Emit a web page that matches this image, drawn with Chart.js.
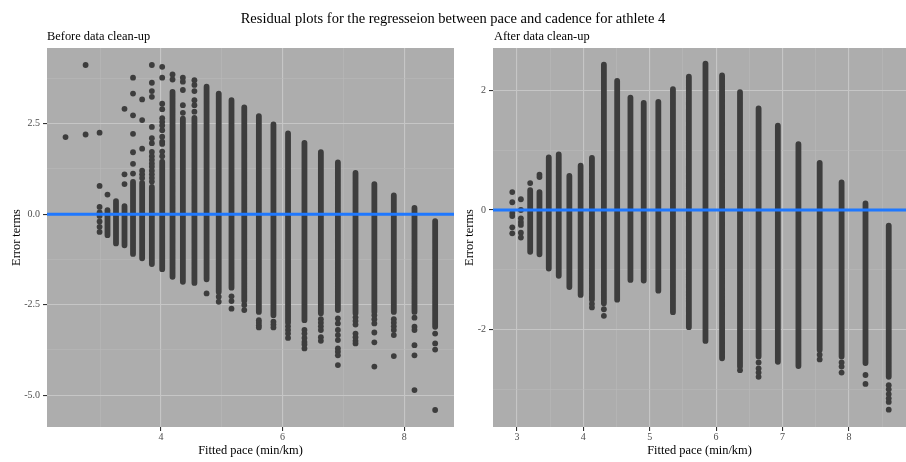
<!DOCTYPE html>
<html>
<head>
<meta charset="utf-8">
<script src="https://cdn.jsdelivr.net/npm/chart.js@4.4.1/dist/chart.umd.min.js"></script>
<style>
  body { margin: 0; background: #fff; font-family: 'Liberation Serif', 'Times New Roman', serif; }
  #wrap { position: relative; width: 906px; height: 462px; overflow: hidden; }
  canvas { position: absolute; top: 0; }
  .txt { position: absolute; line-height: 1; white-space: nowrap; color: #000; }
  #title { top: 11px; left: 0; width: 906px; text-align: center; font-size: 14.5px; }
  .sub { top: 29.5px; font-size: 12.4px; }
</style>
</head>
<body>
<div id="wrap">
  <canvas id="beforeChart" width="455" height="462" style="left:0"></canvas>
  <canvas id="afterChart" width="451" height="462" style="left:455px"></canvas>
  <div class="txt" id="title">Residual plots for the regresseion between pace and cadence for athlete 4</div>
  <div class="txt sub" style="left:47px">Before data clean-up</div>
  <div class="txt sub" style="left:494px">After data clean-up</div>
</div>
<script>
// ---- before clean-up: one entry per fitted pace value
const beforePace = [2.43, 2.76, 2.99, 3.12, 3.26, 3.40, 3.54, 3.69, 3.85, 4.02, 4.19, 4.36, 4.55, 4.75,
    4.95, 5.16, 5.37, 5.61, 5.85, 6.09, 6.36, 6.63, 6.91, 7.20, 7.51, 7.83, 8.17, 8.51];
// dense run of residuals (low / high), null if the column is only loose points
const beforeLow = [null, null, null, -0.58, -0.81, -0.86, -1.10, -1.22, -1.38, -1.52, -1.73, -1.87, -1.90, -1.80,
    -2.15, -2.03, -2.39, -2.70, -2.79, -3.00, -2.93, -2.74, -2.65, -2.74, -2.70, -2.70, -2.70, -3.11];
const beforeHigh = [null, null, null, 0.05, 0.30, 0.22, 0.89, 0.86, 0.75, 1.45, 3.38, 2.64, 2.66, 3.52,
    3.33, 3.15, 2.95, 2.71, 2.48, 2.23, 1.97, 1.71, 1.43, 1.14, 0.83, 0.52, 0.17, -0.19];
// loose residuals outside the dense run
const beforeLoose = [
    [2.13],
    [4.12, 2.20],
    [2.25, 0.78, 0.20, 0.05, -0.05, -0.20, -0.35, -0.49],
    [0.54, 0.11],
    [0.36],
    [2.91, 1.10, 0.83],
    [3.77, 3.33, 2.73, 2.22, 1.71, 1.39, 1.12],
    [3.17, 2.60, 1.81, 1.20, 1.10, 1.00],
    [4.12, 3.63, 3.40, 3.24, 2.41, 2.10, 1.96, 1.72, 1.60, 1.50, 1.40, 1.31, 1.20, 1.10, 1.00, 0.90],
    [4.07, 3.77, 3.05, 2.90, 2.65, 2.55, 2.45, 2.32, 2.14, 2.00, 1.94, 1.73, 1.60],
    [3.86, 3.72],
    [3.77, 3.66, 3.43, 3.01, 2.80],
    [3.70, 3.57, 3.40, 3.15, 3.01, 2.83],
    [-2.19],
    [-2.28, -2.42],
    [-2.27, -2.40, -2.61],
    [-2.51, -2.65],
    [-2.93, -3.00, -3.07, -3.13],
    [-2.97, -3.05, -3.13],
    [-3.10, -3.20, -3.30, -3.42],
    [-3.20, -3.30, -3.42, -3.53, -3.60, -3.71],
    [-2.90, -3.00, -3.10, -3.20, -3.40, -3.50],
    [-2.88, -3.02, -3.20, -3.34, -3.48, -3.71, -3.80, -3.90, -4.17],
    [-2.85, -2.95, -3.05, -3.30, -3.40, -3.50, -3.57],
    [-2.79, -2.90, -3.02, -3.27, -3.54, -4.21],
    [-2.90, -3.00, -3.10, -3.20, -3.34, -3.92],
    [-2.86, -3.11, -3.20, -3.62, -3.90, -4.86],
    [-3.30, -3.57, -3.74, -5.41]
];

// ---- after clean-up
const afterPace = [2.93, 3.06, 3.20, 3.34, 3.48, 3.63, 3.79, 3.96, 4.13, 4.31, 4.51, 4.71, 4.91,
    5.13, 5.35, 5.59, 5.84, 6.09, 6.36, 6.64, 6.93, 7.24, 7.56, 7.89, 8.25, 8.60];
const afterLow = [null, null, -0.70, -0.74, -0.98, -1.10, -1.29, -1.42, -1.50, -1.56, -1.50, -1.17, -1.18,
    -1.35, -1.71, -1.96, -2.19, -2.48, -2.62, -2.45, -2.54, -2.61, -2.34, -2.45, -2.56, -2.79];
const afterHigh = [null, null, 0.33, 0.30, 0.88, 0.93, 0.57, 0.74, 0.87, 2.43, 2.16, 1.88, 1.79,
    1.81, 2.02, 2.23, 2.45, 2.25, 1.97, 1.70, 1.41, 1.10, 0.79, 0.46, 0.11, -0.26];
const afterLoose = [
    [0.30, 0.13, -0.05, -0.10, -0.29, -0.39],
    [0.18, 0.00, -0.14, -0.20, -0.25, -0.38, -0.46],
    [0.45],
    [0.59, 0.55],
    [], [], [], [],
    [-1.57, -1.63],
    [-1.66, -1.77],
    [], [], [], [], [], [], [], [],
    [-2.68],
    [-2.55, -2.65, -2.72, -2.79],
    [], [],
    [-2.42, -2.50],
    [-2.55, -2.62, -2.72],
    [-2.76, -2.91],
    [-2.93, -3.00, -3.08, -3.15, -3.21, -3.34]
];

// axis limits and ticks
const beforeXRange = [2.125, 8.82];
const beforeYRange = [-5.88, 4.59];
const beforeXTicks = [4, 6, 8];
const beforeXMinor = [3, 5, 7];
const beforeYTicks = [-5, -2.5, 0, 2.5];
const beforeYMinor = [-3.75, -1.25, 1.25, 3.75];

const afterXRange = [2.64, 8.86];
const afterYRange = [-3.63, 2.71];
const afterXTicks = [3, 4, 5, 6, 7, 8];
const afterXMinor = [3.5, 4.5, 5.5, 6.5, 7.5, 8.5];
const afterYTicks = [-2, 0, 2];
const afterYMinor = [-3, -1, 1];

const zeroLine = 0;

const FONT = "'Liberation Serif', 'Times New Roman', serif";
const DOT = '#3d3d3d';

const panelBg = {
    id: 'panelBg',
    beforeDraw(chart) {
        const a = chart.chartArea, ctx = chart.ctx;
        ctx.save();
        ctx.fillStyle = '#adadad';
        ctx.fillRect(a.left, a.top, a.right - a.left, a.bottom - a.top);
        ctx.restore();
    }
};

function tickSetter(majors, minors) {
    return function (scale) {
        const t = majors.map(v => ({ value: v })).concat(minors.map(v => ({ value: v, minor: true })));
        t.sort((a, b) => a.value - b.value);
        scale.ticks = t;
    };
}

function makeAxis(range, majors, minors, fmt, title, titlePad, tickPad, fit) {
    return {
        type: 'linear',
        min: range[0],
        max: range[1],
        offset: false,
        afterBuildTicks: tickSetter(majors, minors),
        afterFit: s => {
            fit(s);
            s.paddingLeft = 0;
            s.paddingRight = 0;
            s.paddingTop = 0;
            s.paddingBottom = 0;
        },
        border: { display: false },
        grid: {
            color: ctx => (ctx.tick && ctx.tick.minor) ? '#b9b9b9' : '#c6c6c6',
            lineWidth: ctx => (ctx.tick && ctx.tick.minor) ? 0.6 : 1.1,
            tickColor: ctx => (ctx.tick && ctx.tick.minor) ? 'rgba(0,0,0,0)' : '#333333',
            tickLength: 4
        },
        ticks: {
            autoSkip: false,
            maxRotation: 0,
            padding: tickPad,
            color: '#4d4d4d',
            font: { family: FONT, size: 10 },
            callback: (value, i, ticks) => ticks[i].minor ? '' : fmt(value)
        },
        title: {
            display: true,
            text: title,
            color: '#000',
            font: { family: FONT, size: 12.4 },
            padding: titlePad
        }
    };
}

function buildChart(id, pace, low, high, loose, xRange, yRange, xT, xM, yT, yM, yFmt, yWidth, yTitlePad, padRight) {
    const segs = pace.flatMap((x, i) => low[i] === null ? [] :
        [{ x: x, y: low[i] }, { x: x, y: high[i] }, { x: x, y: null }]);
    const pts = pace.flatMap((x, i) => loose[i].map(y => ({ x: x, y: y })));

    return new Chart(document.getElementById(id), {
        type: 'scatter',
        data: {
            datasets: [
                {
                    type: 'line',
                    data: [{ x: xRange[0], y: zeroLine }, { x: xRange[1], y: zeroLine }],
                    borderColor: '#1f78ff',
                    borderWidth: 3,
                    pointRadius: 0,
                    order: 0
                },
                {
                    type: 'line',
                    data: segs,
                    borderColor: DOT,
                    borderWidth: 5.8,
                    borderCapStyle: 'round',
                    spanGaps: false,
                    pointRadius: 0,
                    order: 1
                },
                {
                    data: pts,
                    backgroundColor: DOT,
                    borderWidth: 0,
                    pointRadius: 2.9,
                    order: 2
                }
            ]
        },
        options: {
            responsive: false,
            animation: false,
            events: [],
            layout: { autoPadding: false, padding: { top: 48, right: padRight, left: 0, bottom: 0 } },
            plugins: { legend: { display: false }, tooltip: { enabled: false }, title: { display: false } },
            scales: {
                x: makeAxis(xRange, xT, xM, v => String(v), 'Fitted pace (min/km)',
                    { top: 0, bottom: 4 }, 0, s => { s.height = 35; }),
                y: makeAxis(yRange, yT, yM, yFmt, 'Error terms',
                    { top: yTitlePad, bottom: 0 }, 3, s => { s.width = yWidth; })
            }
        },
        plugins: [panelBg]
    });
}

buildChart('beforeChart', beforePace, beforeLow, beforeHigh, beforeLoose,
    beforeXRange, beforeYRange, beforeXTicks, beforeXMinor, beforeYTicks, beforeYMinor,
    v => v.toFixed(1), 47, 9.5, 1);
buildChart('afterChart', afterPace, afterLow, afterHigh, afterLoose,
    afterXRange, afterYRange, afterXTicks, afterXMinor, afterYTicks, afterYMinor,
    v => String(v), 38, 7.5, 0);
</script>
</body>
</html>
